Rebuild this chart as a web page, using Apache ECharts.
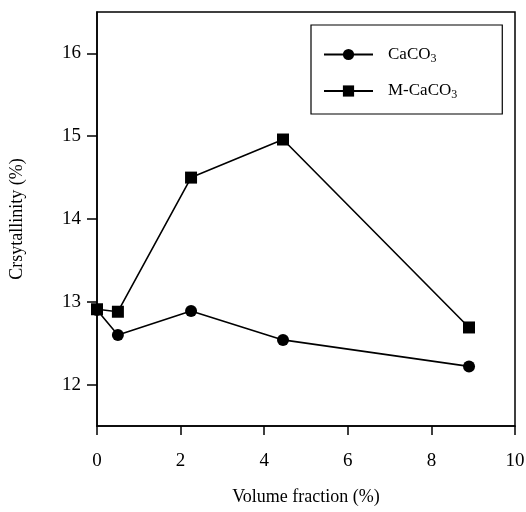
<!DOCTYPE html>
<html><head><meta charset="utf-8">
<script src="https://cdn.jsdelivr.net/npm/echarts@6/dist/echarts.min.js"></script>
<style>html,body{margin:0;padding:0;background:#fff}#c{width:526px;height:512px}</style>
</head><body><div id="c"></div>
<script>
const volumeFraction = [0, 0.5, 2.25, 4.45, 8.9];
const caco3 = [12.9, 12.6, 12.89, 12.54, 12.22];
const mCaco3 = [12.91, 12.88, 14.5, 14.96, 12.69];
const xTicks = [0, 2, 4, 6, 8, 10];
const yTicks = [12, 13, 14, 15, 16];
const seriesNames = ['CaCO3', 'M-CaCO3'];

const FONT = '"Liberation Serif","DejaVu Serif",serif';
const chart = echarts.init(document.getElementById('c'), null, {renderer: 'canvas'});
const pairs = v => volumeFraction.map((x, i) => [x, v[i]]);
chart.setOption({
  animation: false,
  backgroundColor: '#fff',
  grid: {left: 97, right: 11, top: 12, bottom: 86, outerBoundsMode: 'none', containLabel: false,
         show: true, borderColor: '#000', borderWidth: 1.5, backgroundColor: 'transparent'},
  legend: {
    orient: 'vertical', left: 311, top: 25,
    padding: [21, 45, 13, 12], itemGap: 18,
    itemWidth: 49, itemHeight: 14,
    borderColor: '#000', borderWidth: 1.2,
    data: seriesNames,
    formatter: n => n === 'CaCO3' ? '{a|CaCO}{s|3}' : '{a|M-CaCO}{s|3}',
    textStyle: {
      fontFamily: FONT, color: '#000', padding: [0, 0, 0, 10],
      rich: {
        a: {fontFamily: FONT, fontSize: 17, color: '#000'},
        s: {fontFamily: FONT, fontSize: 12, color: '#000', verticalAlign: 'bottom', padding: [8, 0, 0, 0]}
      }
    }
  },
  xAxis: {
    type: 'value', min: 0, max: 10, interval: 2,
    name: 'Volume fraction (%)', nameLocation: 'middle', nameGap: 62,
    nameTextStyle: {fontFamily: FONT, fontSize: 18, color: '#000'},
    axisLine: {show: true, onZero: false, lineStyle: {color: '#000', width: 1.5}},
    axisTick: {show: true, inside: false, length: 9, lineStyle: {color: '#000', width: 1.5}, customValues: xTicks},
    axisLabel: {fontFamily: FONT, fontSize: 19, color: '#000', margin: 26, customValues: xTicks},
    splitLine: {show: false}
  },
  yAxis: {
    type: 'value', min: 11.5, max: 16.5,
    name: 'Crsytallinity (%)', nameLocation: 'middle', nameGap: 71,
    nameTextStyle: {fontFamily: FONT, fontSize: 18, color: '#000'},
    axisLine: {show: true, onZero: false, lineStyle: {color: '#000', width: 1.5}},
    axisTick: {show: true, inside: false, length: 10, lineStyle: {color: '#000', width: 1.5}, customValues: yTicks},
    axisLabel: {fontFamily: FONT, fontSize: 19, color: '#000', margin: 16, customValues: yTicks},
    splitLine: {show: false}
  },
  series: [
    {name: seriesNames[0], type: 'line', data: pairs(caco3), symbol: 'circle', symbolSize: 12,
     itemStyle: {color: '#000'}, lineStyle: {color: '#000', width: 1.6}},
    {name: seriesNames[1], type: 'line', data: pairs(mCaco3), symbol: 'rect', symbolSize: 12,
     itemStyle: {color: '#000'}, lineStyle: {color: '#000', width: 1.6}}
  ]
});
</script></body></html>
